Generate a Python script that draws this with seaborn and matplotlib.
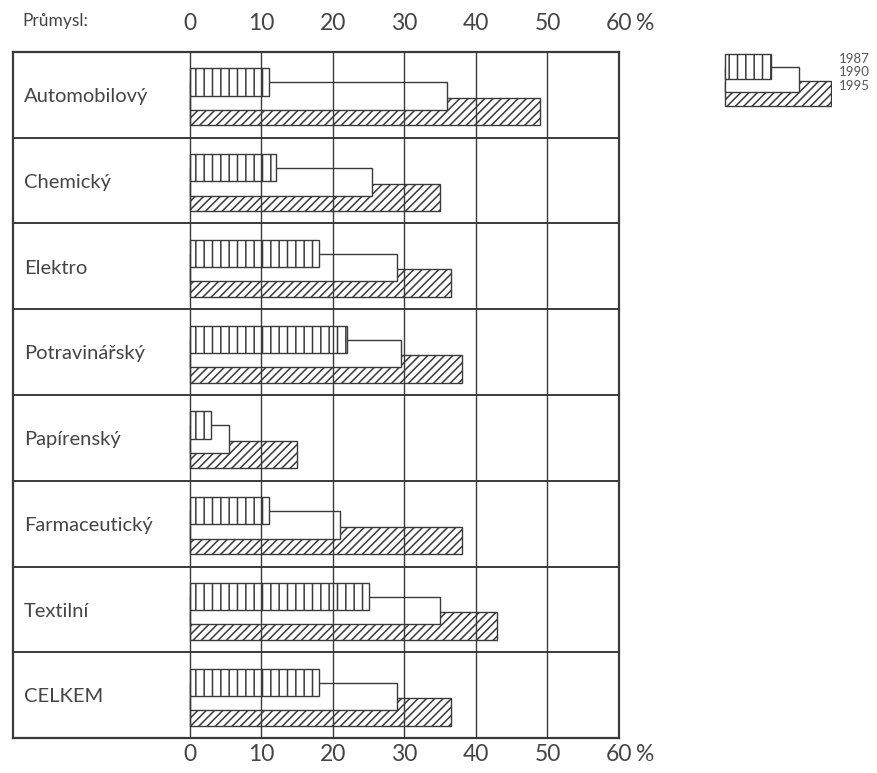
import matplotlib
matplotlib.use("Agg")
import matplotlib.pyplot as plt
import seaborn as sns
import pandas as pd

# Share of each industry (%) in three survey years
industries = ["Automobilový", "Chemický", "Elektro", "Potravinářský",
              "Papírenský", "Farmaceutický", "Textilní", "CELKEM"]
share_1987 = [11, 12, 18, 22, 3, 11, 25, 18]
share_1990 = [36, 25.5, 29, 29.5, 5.5, 21, 35, 29]
share_1995 = [49, 35, 36.5, 38, 15, 38, 43, 36.5]
years = ["1987", "1990", "1995"]
x_ticks = [0, 10, 20, 30, 40, 50, 60]
x_tick_labels = ["0", "10", "20", "30", "40", "50", "60"]
axis_title = "Průmysl:"
# sample bar lengths used only in the key
legend_lengths = [0.43, 0.70, 1.0]

sns.set_theme(style="white")
plt.rcParams["font.family"] = ["Lato", "DejaVu Sans"]
plt.rcParams["hatch.linewidth"] = 1.1
INK = "#3a3a3a"
TEXT = "#454545"
plt.rcParams["hatch.color"] = INK

# stacked, overlapping bars inside each row: 1987 on top, 1995 at the bottom
offsets = {"1987": 0.35, "1990": 0.515, "1995": 0.695}
hatches = {"1987": "||", "1990": None, "1995": "////"}
zorders = {"1987": 2.3, "1990": 2.2, "1995": 2.1}
BAR_H = 0.32

values = {"1987": share_1987, "1990": share_1990, "1995": share_1995}
rows = []
for y in years:
    for i, (name, v) in enumerate(zip(industries, values[y])):
        rows.append({"industry": name, "year": y, "share": v,
                     "pos": i + offsets[y]})
df = pd.DataFrame(rows)

fig = plt.figure(figsize=(8.77, 7.73), dpi=100)
ax = fig.add_axes([13 / 877, 1 - 738 / 773, (619 - 13) / 877, (738 - 52) / 773])

for y in years:
    sub = df[df["year"] == y]
    sns.barplot(data=sub, x="share", y="pos", orient="h", native_scale=True,
                width=BAR_H, color="white", saturation=1, errorbar=None,
                edgecolor=INK, linewidth=1.0, hatch=hatches[y],
                zorder=zorders[y], ax=ax)

ax.set_xlim(-24.75, 60)
ax.set_ylim(len(industries), 0)

# table grid
ax.vlines(x_ticks[:-1], 0, len(industries), color=INK, lw=1.0, zorder=3)
for i in range(1, len(industries)):
    ax.axhline(i, color=INK, lw=1.4, zorder=3)
for s in ax.spines.values():
    s.set_visible(True)
    s.set_color(INK)
    s.set_linewidth(1.6)

# row labels in the left column
for i, name in enumerate(industries):
    ax.text(-23.2, i + 0.52, name, va="center", ha="left",
            fontsize=14.5, color=TEXT)

ax.set_yticks([])
ax.set_ylabel("")
ax.set_xlabel("")
TICK_FS = 16.5
ax.set_xticks(x_ticks, x_tick_labels)
ax.tick_params(axis="x", bottom=False, top=False, length=0, pad=4,
               labelsize=TICK_FS, labelcolor=TEXT)

top = ax.secondary_xaxis("top")
top.set_xticks(x_ticks, x_tick_labels)
top.tick_params(axis="x", length=0, pad=13, labelsize=TICK_FS, labelcolor=TEXT)
top.spines["top"].set_visible(False)

# percent sign after the last tick label, top and bottom
ax.annotate("%", xy=(60, 1), xycoords=ax.get_xaxis_transform(),
            xytext=(12.5, 13), textcoords="offset points", ha="left", va="bottom",
            fontsize=TICK_FS, color=TEXT, annotation_clip=False)
ax.annotate("%", xy=(60, 0), xycoords=ax.get_xaxis_transform(),
            xytext=(12.5, -4), textcoords="offset points", ha="left", va="top",
            fontsize=TICK_FS, color=TEXT, annotation_clip=False)

fig.text(22 / 877, 1 - 21 / 773, axis_title, ha="left", va="center",
         fontsize=12.5, color=TEXT)

# key in the upper right
lax = fig.add_axes([724 / 877, 1 - 108 / 773, 108 / 877, 56 / 773])
for y, length in zip(years, legend_lengths):
    key = pd.DataFrame({"share": [length], "pos": [offsets[y]]})
    sns.barplot(data=key, x="share", y="pos", orient="h", native_scale=True,
                width=BAR_H, color="white", saturation=1, errorbar=None,
                edgecolor=INK, linewidth=1.0, hatch=hatches[y],
                zorder=zorders[y], ax=lax)
lax.set_xlim(-0.01, 1.01)
lax.set_ylim(0.88, 0.16)
lax.axis("off")
ytrans = lax.get_yaxis_transform()
for y in years:
    lax.text(1.06, offsets[y] - 0.1, y, transform=ytrans, ha="left",
             va="center", fontsize=9.5, color="#555555", clip_on=False)

fig.savefig("out.png", dpi=100)
